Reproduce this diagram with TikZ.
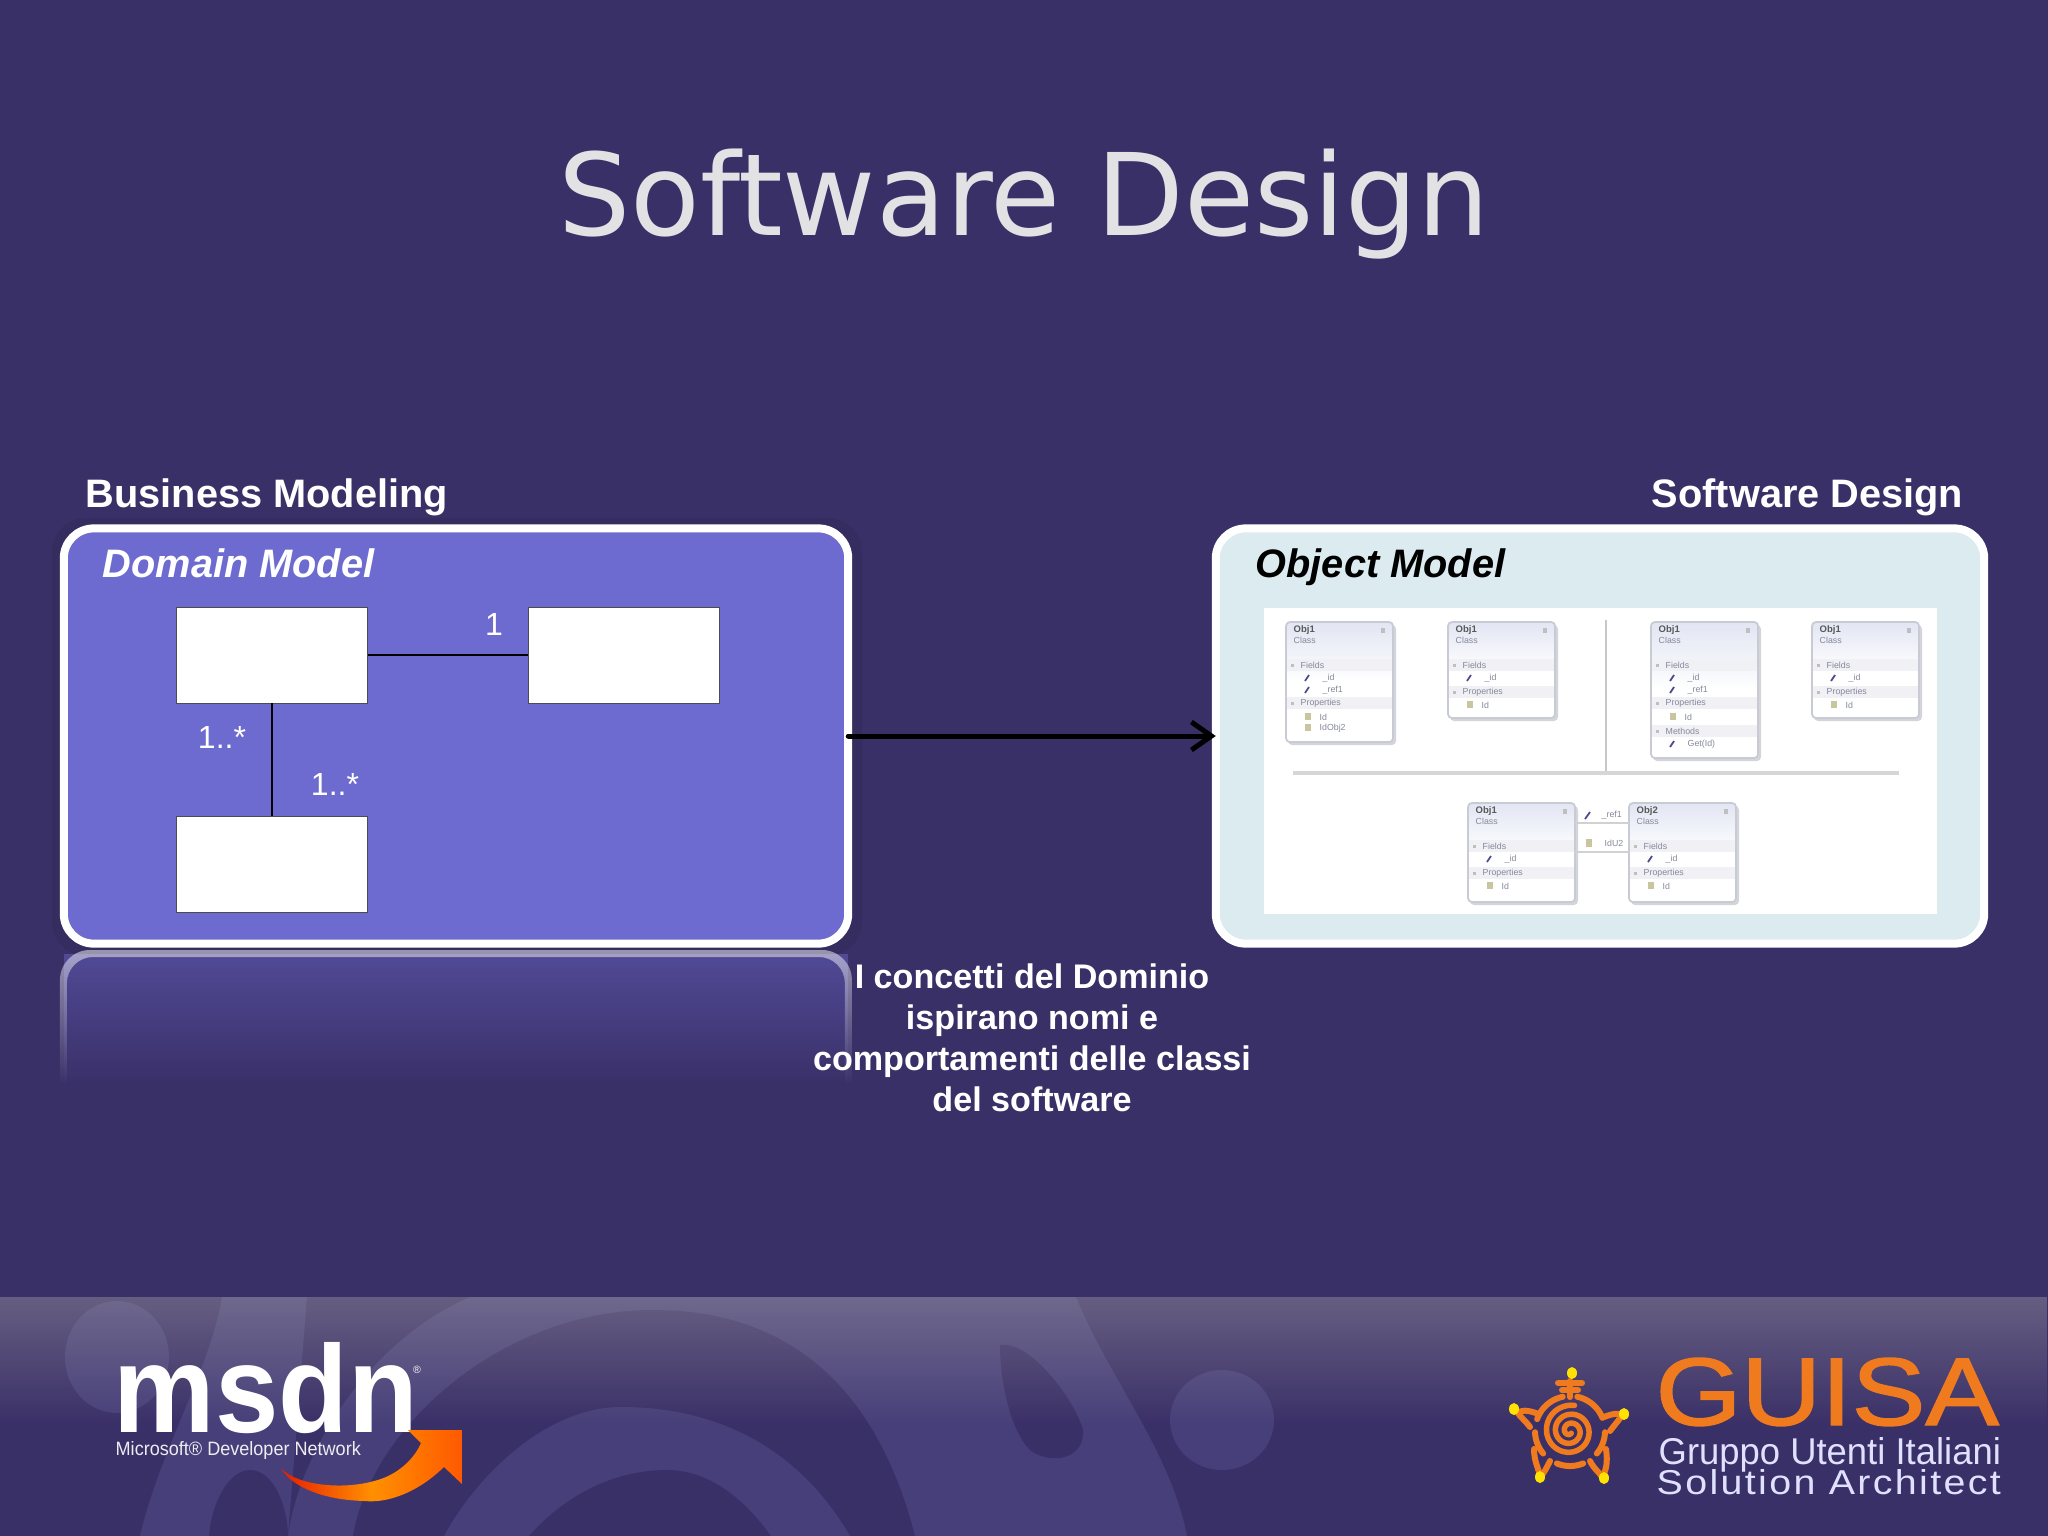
\documentclass[tikz,border=0pt]{standalone}
\usepackage{fontspec}
\usepackage{graphicx}
\setmainfont{Liberation Sans}
\newfontfamily\titlefont{DejaVu Sans}
\usetikzlibrary{arrows.meta,fadings,calc}
\definecolor{bgc}{HTML}{3A3068}
\definecolor{bandc}{HTML}{473F79}
\definecolor{domc}{HTML}{6D6BCF}
\definecolor{objc}{HTML}{DCEBEF}
\definecolor{titlec}{HTML}{E2E2E4}
\definecolor{orangec}{HTML}{F07A1E}
\definecolor{hdrc}{HTML}{E2E5F3}
\definecolor{bandg}{HTML}{F0F0F5}
\definecolor{edgec}{HTML}{C9CBD4}
\definecolor{shadowc}{HTML}{D4D5DA}
\definecolor{textg}{HTML}{85889A}
\definecolor{footg}{HTML}{C4C2B8}
\tikzfading[name=footfade, top color=transparent!68, bottom color=transparent!100]
\tikzfading[name=reflfade, top color=transparent!50, bottom color=transparent!100]
\tikzfading[name=reflfill, top color=transparent!55, bottom color=transparent!100]
\tikzset{
  px/.style={x=0.01cm,y=-0.01cm},
  lbl/.style={inner sep=0,text=white,font=\fontsize{11.3}{13}\selectfont\bfseries},
  panelname/.style={inner sep=0,font=\fontsize{11.3}{13}\selectfont\bfseries\itshape},
  mult/.style={inner sep=0,text=white,font=\fontsize{9.1}{11}\selectfont},
  panel/.style={draw=white,line width=0.08cm,rounded corners=0.3cm,minimum height=4.15cm,inner sep=0,outer sep=0},
  whitebox/.style={draw=black!70,line width=0.25pt,fill=white,minimum width=1.91cm,minimum height=0.96cm,inner sep=0,outer sep=0},
  assoc/.style={draw=black,line width=0.35pt},
  umlclass/.style={draw=edgec,line width=0.5pt,rounded corners=0.04cm,top color=hdrc,bottom color=white,middle color=white,minimum width=1.07cm,inner sep=0,outer sep=0,anchor=north west},
  umlshadow/.style={fill=shadowc,rounded corners=0.04cm},
  umlt/.style={inner sep=0,anchor=west,text=textg,font=\fontsize{2.5}{3}\selectfont},
  umlh/.style={inner sep=0,anchor=west,text=black!65,font=\fontsize{2.7}{3}\selectfont\bfseries},
  sep/.style={draw=black!22,line width=0.4pt},
  foot/.style={fill=bandc},
  turt/.style={draw=orangec,line width=0.06cm,line cap=round}
}
\newcommand{\umlhead}{%
  \node[umlh] at (7,8) {Obj1};
  \node[umlt] at (7,18) {Class};
  \fill[black!25] (95,6) rectangle (99,11);}
\newcommand{\umlband}[2]{%
  \fill[bandg] (1,#1-6) rectangle (106,#1+6);
  \fill[black!25] (5,#1-1.5) rectangle (8,#1+1.5);
  \node[umlt] at (14,#1) {#2};}
\newcommand{\umlfield}[2]{%
  \draw[blue!35!black!70,line width=0.5pt] (19,#1+3) -- (23,#1-3);
  \node[umlt] at (36,#1) {#2};}
\newcommand{\umlprop}[2]{%
  \fill[yellow!45!black!45] (19,#1-4) rectangle (25,#1+3);
  \node[umlt] at (33,#1) {#2};}
\begin{document}
\begin{tikzpicture}[px]
\useasboundingbox (0,0) rectangle (2048,1536);
\fill[bgc] (0,0) rectangle (2048,1536);
% footer swirl
\begin{scope}
\clip (0,1297) rectangle (2048,1536);
\fill[foot] (117,1357) ellipse (52 and 56);
\fill[foot] (222,1297) -- (307,1297) -- (288,1536) -- (140,1536) .. controls (160,1450) and (210,1370) .. cycle;
\fill[foot] (288,1536) .. controls (300,1450) and (370,1340) .. (470,1297) -- (1076,1297) .. controls (1110,1380) and (1170,1450) .. (1187,1536) -- cycle;
\fill[bgc] (209,1536) .. controls (212,1500) and (230,1470) .. (250,1470) .. controls (275,1470) and (288,1510) .. (288,1536) -- cycle;
\fill[bgc] (353,1536) .. controls (370,1430) and (500,1310) .. (653,1310) .. controls (800,1310) and (880,1400) .. (915,1536) -- cycle;
\fill[foot] (444,1536) .. controls (480,1470) and (550,1407) .. (621,1407) .. controls (720,1407) and (800,1450) .. (850,1536) -- cycle;
\fill[bgc] (529,1536) .. controls (570,1490) and (620,1470) .. (667,1470) .. controls (710,1470) and (745,1500) .. (771,1536) -- cycle;
\fill[bgc] (1000,1345) .. controls (1030,1340) and (1075,1400) .. (1083,1430) .. controls (1085,1460) and (1050,1465) .. (1030,1450) .. controls (1010,1430) and (1000,1380) .. cycle;
\fill[foot] (1222,1420) ellipse (52 and 50);
\end{scope}
\fill[footg,path fading=footfade] (0,1297) rectangle (2048,1425);
% title
\node[inner sep=0,text=titlec,font=\titlefont\fontsize{32.4}{38}\selectfont] (title) at (1024,204) {Software Design};
\node[lbl,anchor=base west] (bm) at (85,507) {Business Modeling};
\node[lbl,anchor=base east] (sd) at (1964,507) {Software Design};
% halo and reflection
\fill[black,opacity=.07,rounded corners=0.34cm] (52,518) rectangle (862,956);
\fill[domc,path fading=reflfill] (64,954) -- (848,954) -- (848,1085) -- (64,1085) -- cycle;
\fill[white,path fading=reflfade,even odd rule]
  (60,1085) [rounded corners=0.3cm] -- (60,950) -- (852,950) [sharp corners] -- (852,1085) -- cycle
  (67,1085) [rounded corners=0.26cm] -- (67,957) -- (845,957) [sharp corners] -- (845,1085) -- cycle;
% panels
\node[panel,fill=domc,minimum width=7.84cm] (dom) at (456,736) {};
\node[panel,fill=objc,minimum width=7.68cm] (obj) at (1600,736) {};
\node[panelname,text=white,anchor=base west] (domt) at (102,577) {Domain Model};
\node[panelname,text=black,anchor=base west] (objt) at (1255,577) {Object Model};
\node[whitebox] (c1) at (272,655) {};
\node[whitebox] (c2) at (624,655) {};
\node[whitebox] (c3) at (272,864) {};
\draw[assoc] (c1.east) -- (c2.west);
\draw[assoc] (c1.south) -- (c3.north);
\node[mult] (m1) at (494,624) {1};
\node[mult] (m2) at (222,737) {1..*};
\node[mult] (m3) at (335,784) {1..*};
% arrow
\draw[black,line width=0.05cm,line cap=round,-{Straight Barb[length=0.2cm,width=0.28cm,line width=0.05cm]}] (dom.east) -- (obj.west);
% caption
\node[inner sep=0,text=white,align=center,anchor=center,font=\fontsize{9.7}{11.67}\selectfont\bfseries] (cap) at (1032,1038) {I concetti del Dominio\\ispirano nomi e\\comportamenti delle classi\\del software};
% object model diagram
\node[fill=white,minimum width=6.73cm,minimum height=3.06cm,inner sep=0,anchor=north west] (diag) at (1263,607) {};
\coordinate (vt) at (1606,620);
\coordinate (vb) at (1606,773);
\coordinate (hl) at (1293,773);
\coordinate (hr) at (1899,773);
\draw[sep] (vt) -- (vb);
\draw[sep,line width=0.9pt,draw=black!16] (hl) -- (hr);
% class A
\fill[umlshadow] (1288,625) rectangle (1396,745);
\node[umlclass,minimum height=1.2cm] (ca) at (1286,622) {};
\begin{scope}[shift={(1286,622)}]
\umlhead \umlband{43}{Fields} \umlfield{56}{\_id} \umlfield{68}{\_ref1}
\umlband{81}{Properties} \umlprop{95}{Id} \umlprop{106}{IdObj2}
\end{scope}
% class B
\fill[umlshadow] (1450,625) rectangle (1558,721);
\node[umlclass,minimum height=0.96cm] (cb) at (1448,622) {};
\begin{scope}[shift={(1448,622)}]
\umlhead \umlband{43}{Fields} \umlfield{56}{\_id} \umlband{70}{Properties} \umlprop{83}{Id}
\end{scope}
% class C
\fill[umlshadow] (1653,625) rectangle (1761,761);
\node[umlclass,minimum height=1.36cm] (cc) at (1651,622) {};
\begin{scope}[shift={(1651,622)}]
\umlhead \umlband{43}{Fields} \umlfield{56}{\_id} \umlfield{68}{\_ref1}
\umlband{81}{Properties} \umlprop{95}{Id} \umlband{109}{Methods} \umlfield{122}{Get(Id)}
\end{scope}
% class D
\fill[umlshadow] (1814,625) rectangle (1922,721);
\node[umlclass,minimum height=0.96cm] (cd) at (1812,622) {};
\begin{scope}[shift={(1812,622)}]
\umlhead \umlband{43}{Fields} \umlfield{56}{\_id} \umlband{70}{Properties} \umlprop{83}{Id}
\end{scope}
% class E
\fill[umlshadow] (1470,806) rectangle (1578,905);
\node[umlclass,minimum height=0.99cm] (ce) at (1468,803) {};
\begin{scope}[shift={(1468,803)}]
\umlhead \umlband{43}{Fields} \umlfield{56}{\_id} \umlband{70}{Properties} \umlprop{83}{Id}
\end{scope}
% class F
\fill[umlshadow] (1631,806) rectangle (1739,905);
\node[umlclass,minimum height=0.99cm] (cf) at (1629,803) {};
\begin{scope}[shift={(1629,803)}]
\node[umlh] at (7,8) {Obj2}; \node[umlt] at (7,18) {Class}; \fill[black!25] (95,6) rectangle (99,11);
\umlband{43}{Fields} \umlfield{56}{\_id} \umlband{70}{Properties} \umlprop{83}{Id}
\end{scope}
\draw[black!18,line width=0.4pt] (ce.north east |- 0,823) -- (cf.north west |- 0,823);
\draw[black!18,line width=0.4pt] (ce.north east |- 0,852) -- (cf.north west |- 0,852);
\node[umlt] (ref) at (1601,815) {\_ref1};
\node[umlt] (idu) at (1604,843) {IdU2};
\draw[blue!35!black!70,line width=0.5pt] (1585,819) -- (1590,812);
\fill[yellow!45!black!45] (1586,839) rectangle (1592,847);
% MSDN logo
\node[inner sep=0,anchor=base west,text=white] (msdn) at (113,1432) {\resizebox{3.04cm}{0.9cm}{\bfseries msdn}};
\node[inner sep=0,text=white,font=\fontsize{3}{3}\selectfont] (reg) at (417,1370) {®};
\node[inner sep=0,anchor=base west,text=white!90!bandc] (msn) at (115,1455) {\resizebox{2.45cm}{0.14cm}{Microsoft® Developer Network}};
\shade[left color=red!75!orange!90!black,right color=orange!70!red,middle color=orange!75!yellow!90!red]
 (408,1430) -- (462,1430) -- (462,1484) -- (444,1467) .. controls (415,1495) and (385,1503) .. (365,1501) .. controls (320,1500) and (290,1485) .. (281,1468) .. controls (296,1486) and (350,1492) .. (386,1477) .. controls (402,1470) and (415,1457) .. (421,1443) -- cycle;
% GUISA logo
\node[inner sep=0,anchor=base west,text=orangec] (guisa) at (1655,1425) {\resizebox{3.43cm}{0.67cm}{\addfontfeatures{FakeBold=1.5}GUISA}};
\node[inner sep=0,anchor=base west,text=white!88!blue] (gui1) at (1658,1464) {\resizebox{3.42cm}{0.27cm}{Gruppo Utenti Italiani}};
\node[inner sep=0,anchor=base west,text=white!88!blue] (gui2) at (1656,1494) {\resizebox{3.44cm}{0.25cm}{\addfontfeatures{LetterSpace=6.0}Solution Architect}};
% turtle
\begin{scope}[shift={(1570,1431)}]
\draw[turt,line width=0.055cm] plot[domain=60:1000,samples=120,smooth] ({(1+\x/40)*cos(\x)},{(1+\x/40)*sin(\x)});
\foreach \a/\b in {-78/-22,2/40,68/112,140/178,200/258}{
  \draw[turt] plot[domain=\a:\b,samples=14,smooth] ({35*cos(\x)},{35*sin(\x)});}
\draw[turt] (0,-34) -- (0,-50);
\draw[turt] (-12,-48) -- (12,-48);
\draw[turt] (-8,-41) -- (8,-41);
\draw[turt] (-34,-18) .. controls (-46,-22) and (-50,-20) .. (-52,-18);
\draw[turt] (-40,-4) .. controls (-46,-12) and (-50,-14) .. (-52,-18);
\draw[turt] (34,-14) .. controls (44,-18) and (50,-18) .. (52,-16);
\draw[turt] (40,0) .. controls (46,-8) and (50,-12) .. (52,-16);
\draw[turt] (-20,30) .. controls (-24,38) and (-26,42) .. (-30,46);
\draw[turt] (-36,18) .. controls (-36,32) and (-30,40) .. (-30,46);
\draw[turt] (20,30) .. controls (24,38) and (30,42) .. (32,46);
\draw[turt] (36,18) .. controls (38,32) and (36,40) .. (32,46);
\foreach \p in {(2,-58),(-56,-22),(54,-17),(-30,46),(34,47)}{
  \fill[yellow!85!orange] \p ellipse (5 and 6);}
\end{scope}
\end{tikzpicture}
\end{document}
